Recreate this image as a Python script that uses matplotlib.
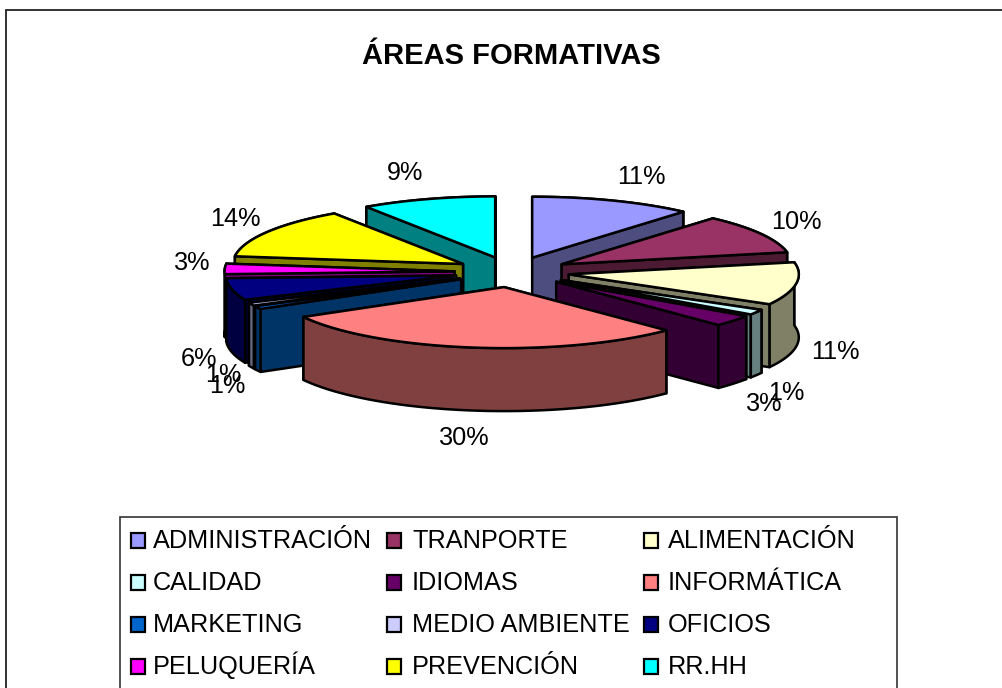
import numpy as np
import matplotlib
matplotlib.use("Agg")
import matplotlib.pyplot as plt
from matplotlib.patches import Polygon, Rectangle
from matplotlib.colors import to_rgb

plt.rcParams['font.family'] = ['Liberation Sans', 'DejaVu Sans']

categories = ['ADMINISTRACIÓN', 'TRANPORTE', 'ALIMENTACIÓN', 'CALIDAD', 'IDIOMAS', 'INFORMÁTICA',
              'MARKETING', 'MEDIO AMBIENTE', 'OFICIOS', 'PELUQUERÍA', 'PREVENCIÓN', 'RR.HH']
values = [11.4, 10.4, 11.3, 1.4, 3.0, 29.3, 0.8, 0.8, 5.8, 2.75, 13.5, 9.45]
colors = ['#9999FF', '#993366', '#FFFFCC', '#CCFFFF', '#660066', '#FF8080',
          '#0066CC', '#CCCCFF', '#000080', '#FF00FF', '#FFFF00', '#00FFFF']
pct_labels = ['11%', '10%', '11%', '1%', '3%', '30%', '1%', '1%', '6%', '3%', '14%', '9%']
label_pos = [(641, 177), (796, 222), (835, 352), (786, 393), (764, 404), (464, 438),
             (227, 386), (223, 375), (199, 359), (192, 263), (235, 219), (405, 173)]

W, H = 1002, 688
fig = plt.figure(figsize=(W / 100, H / 100), dpi=100)
ax = fig.add_axes([0, 0, 1, 1])
ax.set_xlim(0, W)
ax.set_ylim(H, 0)
ax.axis('off')

ax.add_patch(Rectangle((6.5, 10), 1100, 800, fc='white', ec='#222222', lw=1.3))

CX, CY, RX, RY, DEPTH, EXPL = 512, 272, 230, 61, 63, 0.25
LW = 1.8

vals = np.array(values, float)
edges = np.concatenate([[0], np.cumsum(vals)]) / vals.sum() * 2 * np.pi
mids = (edges[:-1] + edges[1:]) / 2


def dark(c):
    return tuple(v * 0.5 for v in to_rgb(c))


def face(pts, fc):
    ax.add_patch(Polygon(pts, closed=True, fc=fc, ec='black', lw=LW, joinstyle='round'))


for i in np.argsort(-np.cos(mids)):
    a0, a1, m = edges[i], edges[i + 1], mids[i]
    ax0 = CX + EXPL * RX * np.sin(m)
    ay0 = CY - EXPL * RY * np.cos(m)
    th = np.linspace(a0, a1, max(3, int((a1 - a0) * 60)))
    arc = np.column_stack([ax0 + RX * np.sin(th), ay0 - RY * np.cos(th)])
    apex = np.array([ax0, ay0])
    down = np.array([0, DEPTH])
    side = dark(colors[i])
    faces = [
        np.array([apex, arc[0], arc[0] + down, apex + down]),
        np.array([apex, arc[-1], arc[-1] + down, apex + down]),
        np.vstack([arc, (arc + down)[::-1]]),
    ]
    for f in sorted(faces, key=lambda p: p[:, 1].mean()):
        face(f, side)
    face(np.vstack([apex, arc]), colors[i])

for lab, (x, y) in zip(pct_labels, label_pos):
    ax.text(x, y, lab, ha='center', va='center', fontsize=18.2, color='black')

ax.text(511, 56, 'ÁREAS FORMATIVAS', ha='center', va='center', fontsize=21,
        fontweight='bold', color='black')

# legend box (its bottom edge runs past the picture, as in the reference)
ax.add_patch(Rectangle((120, 517), 777, 300, fc='white', ec='#333333', lw=1.2, zorder=5))
col_x = [131, 387, 644]
text_gap = [22, 25, 24]
row_y = [540, 582, 624, 666]
for k, (name, col) in enumerate(zip(categories, colors)):
    r, c = divmod(k, 3)
    ax.add_patch(Rectangle((col_x[c], row_y[r] - 7), 14, 15, fc=col, ec='black', lw=1.6, zorder=6))
    ax.text(col_x[c] + text_gap[c], row_y[r] + 8, name, ha='left', va='baseline', fontsize=18.2,
            color='black', zorder=6)

fig.savefig('out.png', dpi=100)
